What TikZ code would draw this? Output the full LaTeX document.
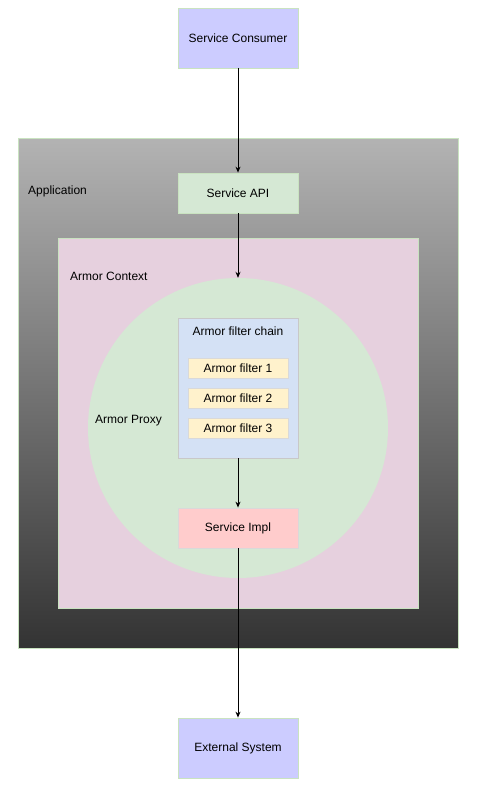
\documentclass[tikz,border=0pt]{standalone}
\usepackage{fontspec}
\setmainfont{Liberation Sans}
\usetikzlibrary{arrows.meta}
\definecolor{edge}{HTML}{C9E3C0}
\definecolor{consumer}{HTML}{CCCCFF}
\definecolor{apitop}{HTML}{B3B3B3}
\definecolor{apibottom}{HTML}{333333}
\definecolor{context}{HTML}{E6D0DE}
\definecolor{proxyfill}{HTML}{D5E8D4}
\definecolor{chainfill}{HTML}{D4E1F5}
\definecolor{chainedge}{HTML}{C8C8C8}
\definecolor{filterfill}{HTML}{FFF2CC}
\definecolor{filteredge}{HTML}{D9D9D9}
\definecolor{implfill}{HTML}{FFCCCC}

\begin{document}
\begin{tikzpicture}[x=1pt, y=-1pt,
		every node/.style={font=\fontsize{12}{14}\selectfont, inner sep=0pt},
		box/.style={draw=edge, line width=0.8pt, minimum width=120pt},
		filterbox/.style={draw=filteredge, fill=filterfill, line width=0.8pt, minimum width=100pt, minimum height=20pt},
		link/.style={-{Stealth[length=6pt,width=5pt]}, line width=0.9pt}]
		\useasboundingbox (0,0) rectangle (484,793);
		\node[box, fill=consumer, minimum height=60pt] (consumer) at (238,38) {Service Consumer};
		\node[draw=edge, line width=0.8pt, top color=apitop, bottom color=apibottom,
			minimum width=440pt, minimum height=510pt] (app) at (238,393) {};
		\node[anchor=west] (applabel) at (28,191) {Application};
		\node[box, fill=proxyfill, minimum height=40pt] (api) at (238,193) {Service API};
		\node[draw=edge, line width=0.8pt, fill=context,
			minimum width=360pt, minimum height=370pt] (context) at (238,423) {};
		\node[anchor=west] (contextlabel) at (70,276) {Armor Context};
		\node[circle, fill=proxyfill, minimum size=300pt] (proxy) at (238,428) {};
		\node[anchor=west] (proxylabel) at (95,421) {Armor Proxy};
		\node[draw=chainedge, fill=chainfill, line width=0.8pt,
			minimum width=120pt, minimum height=140pt] (chain) at (238,388) {};
		\node (chainlabel) at (238,331) {Armor filter chain};
		\node[filterbox] (filter1) at (238,368) {Armor filter 1};
		\node[filterbox] (filter2) at (238,398) {Armor filter 2};
		\node[filterbox] (filter3) at (238,428) {Armor filter 3};
		\node[box, draw=filteredge, fill=implfill, minimum height=40pt] (impl) at (238,528) {Service Impl};
		\node[box, fill=consumer, minimum height=60pt] (external) at (238,748) {External System};
		\draw[link] (consumer) -- (api);
		\draw[link] (api) -- (proxy);
		\draw[link] (chain) -- (impl);
		\draw[link] (impl) -- (external);
	\end{tikzpicture}
\end{document}
